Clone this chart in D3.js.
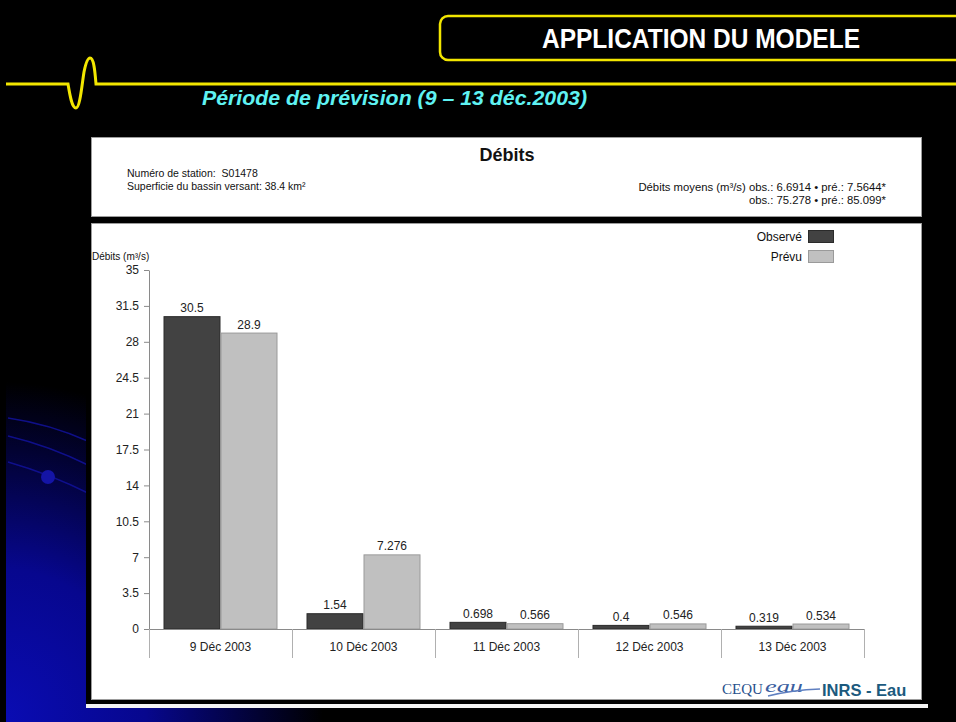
<!DOCTYPE html>
<html>
<head>
<meta charset="utf-8">
<script src="https://cdn.jsdelivr.net/npm/d3@7"></script>
<style>
  html, body { margin: 0; padding: 0; background: #000; }
  svg { display: block; }
</style>
</head>
<body>
<svg id="slide" width="956" height="722"></svg>
<script>
// Daily discharge, 9–13 Dec 2003 (m³/s)
const categories = ["9 Déc 2003", "10 Déc 2003", "11 Déc 2003", "12 Déc 2003", "13 Déc 2003"];
const seriesNames = ["Observé", "Prévu"];
const observed = [30.5, 1.54, 0.698, 0.4, 0.319];
const forecast = [28.9, 7.276, 0.566, 0.546, 0.534];
const valueLabels = [["30.5", "1.54", "0.698", "0.4", "0.319"], ["28.9", "7.276", "0.566", "0.546", "0.534"]];
const yTicks = [0, 3.5, 7, 10.5, 14, 17.5, 21, 24.5, 28, 31.5, 35];
const headerLeft = ["Numéro de station:  S01478", "Superficie du bassin versant: 38.4 km²"];
const headerRight = ["Débits moyens (m³/s) obs.: 6.6914 • pré.: 7.5644*", "obs.: 75.278 • pré.: 85.099*"];

const seriesValues = [observed, forecast];
const seriesFill = ["#424242", "#c0c0c0"];
const seriesStroke = ["#2a2a2a", "#9a9a9a"];

const svg = d3.select("#slide");
const defs = svg.append("defs");

// ---- slide background ----
const bg = defs.append("radialGradient").attr("id", "bgGlow")
  .attr("gradientUnits", "userSpaceOnUse")
  .attr("cx", 0).attr("cy", 722).attr("r", 340)
  .attr("gradientTransform", "translate(0,722) scale(0.95,1) translate(0,-722)");
bg.append("stop").attr("offset", 0).attr("stop-color", "#0a0cb4");
bg.append("stop").attr("offset", 0.45).attr("stop-color", "#07078e");
bg.append("stop").attr("offset", 0.8).attr("stop-color", "#020232");
bg.append("stop").attr("offset", 1).attr("stop-color", "#000000");

svg.append("rect").attr("width", 956).attr("height", 722).attr("fill", "#000");
svg.append("rect").attr("width", 956).attr("height", 722).attr("fill", "url(#bgGlow)");

// decorative orbit arcs and dot at the left
const arcs = svg.append("g").attr("fill", "none").attr("stroke", "#12129a").attr("stroke-width", 1.5).attr("opacity", 0.85);
arcs.append("path").attr("d", "M8,418 Q50,424 90,442");
arcs.append("path").attr("d", "M8,436 Q50,446 90,466");
arcs.append("path").attr("d", "M8,462 Q50,474 90,494");
svg.append("circle").attr("cx", 48).attr("cy", 477).attr("r", 7).attr("fill", "#1414a6");

svg.append("rect").attr("x", 0).attr("y", 0).attr("width", 6).attr("height", 722).attr("fill", "#000");

// ---- yellow header frame and wave line ----
svg.append("rect")
  .attr("x", 440).attr("y", 16).attr("width", 560).attr("height", 44).attr("rx", 8)
  .attr("fill", "none").attr("stroke", "#f2e600").attr("stroke-width", 2.5);

svg.append("path")
  .attr("d", "M6,84 L68,84 C70,96 72,108 76,108 C80,108 82,84 84,72 C86,62 88,58 90,58 C94,58 95,72 96,84 L956,84")
  .attr("fill", "none").attr("stroke", "#f2e600").attr("stroke-width", 3);

svg.append("text")
  .attr("x", 701).attr("y", 48)
  .attr("text-anchor", "middle")
  .attr("font-family", "'Liberation Sans Narrow', 'Arial Narrow', 'Liberation Sans', sans-serif")
  .attr("font-weight", "bold").attr("font-size", 27)
  .attr("textLength", 318).attr("lengthAdjust", "spacingAndGlyphs")
  .attr("fill", "#ffffff")
  .text("APPLICATION DU MODELE");

svg.append("text")
  .attr("x", 202).attr("y", 105)
  .attr("font-family", "'Liberation Sans Narrow', 'Arial Narrow', 'Liberation Sans', sans-serif")
  .attr("font-weight", "bold").attr("font-style", "italic").attr("font-size", 21)
  .attr("textLength", 385).attr("lengthAdjust", "spacingAndGlyphs")
  .attr("fill", "#5ff2f2")
  .text("Période de prévision (9 – 13 déc.2003)");

// ---- chart panel ----
svg.append("rect").attr("x", 86).attr("y", 133).attr("width", 842).attr("height", 571).attr("fill", "#000");
svg.append("rect").attr("x", 86).attr("y", 704).attr("width", 842).attr("height", 4).attr("fill", "#f4f4f4");

svg.append("rect").attr("x", 91.5).attr("y", 137.5).attr("width", 830).attr("height", 79)
  .attr("fill", "#fff").attr("stroke", "#9c9c9c");
svg.append("rect").attr("x", 91.5).attr("y", 223.5).attr("width", 830).attr("height", 476)
  .attr("fill", "#fff").attr("stroke", "#9c9c9c");

const font = "'Liberation Sans', Arial, sans-serif";

svg.append("text").attr("x", 507).attr("y", 161).attr("text-anchor", "middle")
  .attr("font-family", font).attr("font-weight", "bold").attr("font-size", 18).attr("fill", "#111")
  .text("Débits");

svg.append("g").selectAll("text").data(headerLeft).join("text")
  .attr("x", 127).attr("y", (d, i) => 177 + i * 13)
  .attr("font-family", font).attr("font-size", 10.5).attr("fill", "#111")
  .attr("xml:space", "preserve").style("white-space", "pre")
  .text(d => d);

svg.append("g").selectAll("text").data(headerRight).join("text")
  .attr("x", 886).attr("y", (d, i) => 191 + i * 13).attr("text-anchor", "end")
  .attr("font-family", font).attr("font-size", 11.3).attr("fill", "#111")
  .text(d => d);

// ---- scales ----
const plotLeft = 149, plotRight = 864, plotTop = 270, plotBottom = 629;
const x = d3.scaleBand().domain(categories).range([plotLeft, plotRight]).padding(0);
const barPad = 14.5;
const xs = d3.scaleBand().domain(seriesNames).range([barPad, x.bandwidth() - barPad]).padding(0);
const y = d3.scaleLinear().domain([0, 35]).range([plotBottom, plotTop]);

// y axis
const yAxis = svg.append("g").attr("transform", `translate(${plotLeft},0)`)
  .call(d3.axisLeft(y).tickValues(yTicks).tickSize(5).tickSizeOuter(0).tickPadding(5).tickFormat(d3.format("~g")));
yAxis.select(".domain").attr("stroke", "#8a8a8a");
yAxis.selectAll(".tick line").attr("stroke", "#8a8a8a");
yAxis.selectAll(".tick text").attr("font-family", font).attr("font-size", 12).attr("fill", "#222");

svg.append("text").attr("x", 92).attr("y", 260)
  .attr("font-family", font).attr("font-size", 10).attr("fill", "#111")
  .text("Débits (m³/s)");

// bars
const groups = svg.append("g").selectAll("g").data(categories).join("g")
  .attr("transform", d => `translate(${x(d)},0)`);

seriesNames.forEach((s, si) => {
  groups.append("rect")
    .attr("x", xs(s) + 0.5)
    .attr("y", (d, i) => y(seriesValues[si][i]) + 0.5)
    .attr("width", xs.bandwidth() - 1)
    .attr("height", (d, i) => Math.max(0, y(0) - y(seriesValues[si][i]) - 0.5))
    .attr("fill", seriesFill[si]).attr("stroke", seriesStroke[si]).attr("stroke-width", 1);
  groups.append("text")
    .attr("x", xs(s) + xs.bandwidth() / 2)
    .attr("y", (d, i) => y(seriesValues[si][i]) - 4)
    .attr("text-anchor", "middle")
    .attr("font-family", font).attr("font-size", 12).attr("fill", "#222")
    .text((d, i) => valueLabels[si][i]);
});

// x axis baseline, category dividers and labels
svg.append("line").attr("x1", plotLeft).attr("x2", plotRight).attr("y1", plotBottom + 0.5).attr("y2", plotBottom + 0.5)
  .attr("stroke", "#8a8a8a");
const dividers = categories.map(c => x(c)).concat([plotRight]);
svg.append("g").selectAll("line").data(dividers).join("line")
  .attr("x1", d => Math.round(d) + 0.5).attr("x2", d => Math.round(d) + 0.5)
  .attr("y1", plotBottom).attr("y2", 658)
  .attr("stroke", "#b0b0b0");
svg.append("g").selectAll("text").data(categories).join("text")
  .attr("x", d => x(d) + x.bandwidth() / 2).attr("y", 651)
  .attr("text-anchor", "middle")
  .attr("font-family", font).attr("font-size", 12).attr("fill", "#222")
  .text(d => d);

// legend
const legend = svg.append("g").selectAll("g").data(seriesNames).join("g")
  .attr("transform", (d, i) => `translate(0,${230 + i * 20})`);
legend.append("rect").attr("x", 808.5).attr("y", 0.5).attr("width", 25).attr("height", 12)
  .attr("fill", (d, i) => seriesFill[i]).attr("stroke", (d, i) => seriesStroke[i]);
legend.append("text").attr("x", 802).attr("y", 11).attr("text-anchor", "end")
  .attr("font-family", font).attr("font-size", 12).attr("fill", "#111")
  .text(d => d);

// footer credit
const credit = svg.append("g");
credit.append("text").attr("x", 722).attr("y", 694)
  .attr("font-family", "'Liberation Serif', 'Times New Roman', serif").attr("font-size", 15)
  .attr("fill", "#28508c").text("CEQU");
credit.append("text").attr("x", 765).attr("y", 692)
  .attr("font-family", "'Liberation Serif', serif").attr("font-style", "italic").attr("font-size", 17)
  .attr("fill", "#3a5ea0").attr("textLength", 38).attr("lengthAdjust", "spacingAndGlyphs").text("eau");
credit.append("path").attr("d", "M768,696 Q792,690 820,689")
  .attr("fill", "none").attr("stroke", "#5f7fc0").attr("stroke-width", 1.3);
credit.append("text").attr("x", 822).attr("y", 696)
  .attr("font-family", font).attr("font-weight", "bold").attr("font-size", 16.5)
  .attr("fill", "#1c5a7e").text("INRS - Eau");
</script>
</body>
</html>
